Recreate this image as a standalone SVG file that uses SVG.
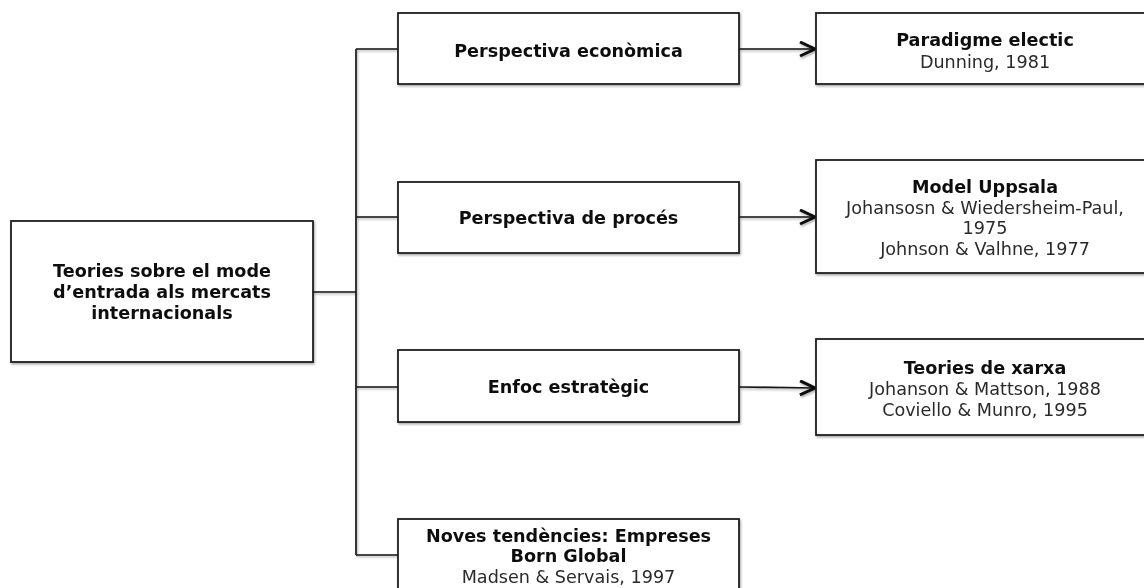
<svg xmlns="http://www.w3.org/2000/svg" width="1144" height="588" viewBox="0 0 1144 588">
  <defs>
    <filter id="sh" x="-5%" y="-5%" width="110%" height="110%">
      <feDropShadow dx="1" dy="1.5" stdDeviation="1.2" flood-color="#000" flood-opacity="0.35"/>
    </filter>
    <marker id="arr" markerWidth="20" markerHeight="20" viewBox="0 0 20 20" refX="16" refY="8" markerUnits="userSpaceOnUse" orient="auto">
      <path d="M1,1 L16,8 L1,15" fill="none" stroke="#111" stroke-width="3"/>
    </marker>
    <style>
      .box { fill: #fff; stroke: #1e1e1e; stroke-width: 1.8; }
      .t { font-family: "DejaVu Sans", Verdana, sans-serif; font-size: 17.6px; text-anchor: middle; fill: #111; }
      .b { font-weight: bold; }
      .r { fill: #2a2a2a; }
      .ln { fill: none; stroke: #151515; stroke-width: 1.7; }
    </style>
  </defs>
  <rect width="1144" height="588" fill="#fff"/>
  <g filter="url(#sh)">
    <g id="connectors">
      <line class="ln" x1="313" y1="292" x2="356" y2="292" stroke-width="3"/>
      <line class="ln" x1="356" y1="49" x2="356" y2="555" stroke-width="2"/>
      <line class="ln" x1="356" y1="49" x2="398" y2="49"/>
      <line class="ln" x1="356" y1="217" x2="398" y2="217"/>
      <line class="ln" x1="356" y1="387" x2="398" y2="387"/>
      <line class="ln" x1="356" y1="555" x2="398" y2="555"/>
      <line class="ln" x1="739" y1="49" x2="815" y2="49" marker-end="url(#arr)"/>
      <line class="ln" x1="739" y1="217" x2="815" y2="217" marker-end="url(#arr)"/>
      <line class="ln" x1="739" y1="387" x2="815" y2="388" marker-end="url(#arr)"/>
    </g>
    <g id="root">
      <rect class="box" x="11" y="221" width="302" height="141"/>
      <text class="t b" x="162" y="277">Teories sobre el mode</text>
      <text class="t b" x="162" y="298">d’entrada als mercats</text>
      <text class="t b" x="162" y="319">internacionals</text>
    </g>
    <g id="economica">
      <rect class="box" x="398" y="13" width="341" height="71"/>
      <text class="t b" x="568.5" y="57">Perspectiva econòmica</text>
    </g>
    <g id="proces">
      <rect class="box" x="398" y="182" width="341" height="71"/>
      <text class="t b" x="568.5" y="224">Perspectiva de procés</text>
    </g>
    <g id="estrategic">
      <rect class="box" x="398" y="350" width="341" height="72"/>
      <text class="t b" x="568.5" y="393">Enfoc estratègic</text>
    </g>
    <g id="born-global">
      <rect class="box" x="398" y="519" width="341" height="90"/>
      <text class="t b" x="568.5" y="542">Noves tendències: Empreses</text>
      <text class="t b" x="568.5" y="562">Born Global</text>
      <text class="t r" x="568.5" y="583">Madsen &amp; Servais, 1997</text>
    </g>
    <g id="paradigme">
      <rect class="box" x="816" y="13" width="340" height="71"/>
      <text class="t b" x="985" y="46">Paradigme electic</text>
      <text class="t r" x="985" y="68">Dunning, 1981</text>
    </g>
    <g id="uppsala">
      <rect class="box" x="816" y="160" width="340" height="113"/>
      <text class="t b" x="985" y="193">Model Uppsala</text>
      <text class="t r" x="985" y="214">Johansosn &amp; Wiedersheim-Paul,</text>
      <text class="t r" x="985" y="234">1975</text>
      <text class="t r" x="985" y="255">Johnson &amp; Valhne, 1977</text>
    </g>
    <g id="xarxa">
      <rect class="box" x="816" y="339" width="340" height="96"/>
      <text class="t b" x="985" y="374">Teories de xarxa</text>
      <text class="t r" x="985" y="395">Johanson &amp; Mattson, 1988</text>
      <text class="t r" x="985" y="416">Coviello &amp; Munro, 1995</text>
    </g>
  </g>
</svg>
